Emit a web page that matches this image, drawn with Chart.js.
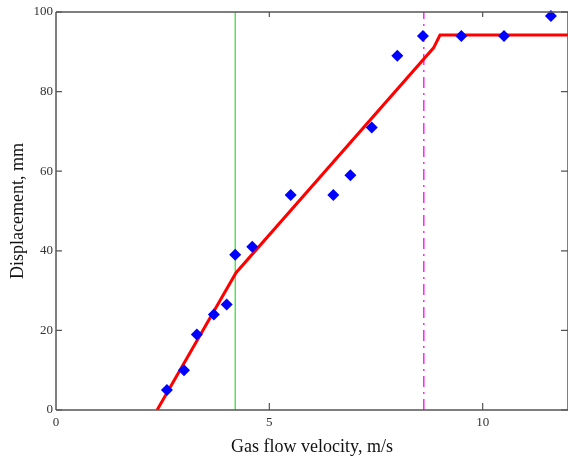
<!DOCTYPE html>
<html>
<head>
<meta charset="utf-8">
<script src="https://cdn.jsdelivr.net/npm/chart.js@4"></script>
<style>
  html, body { margin: 0; padding: 0; background: #fff; }
  #wrap { width: 568px; height: 462px; }
</style>
</head>
<body>
<div id="wrap"><canvas id="chart"></canvas></div>
<script>
// measured points (gas flow velocity vs displacement)
var velocity     = [2.6, 3.0, 3.3, 3.7, 4.0, 4.2, 4.6, 5.5, 6.5, 6.9, 7.4, 8.0, 8.6, 9.5, 10.5, 11.6];
var displacement = [5, 10, 19, 24, 26.5, 39, 41, 54, 54, 59, 71, 89, 94, 94, 94, 99];

// piecewise fit line
var fitX = [2.37, 4.22, 8.85, 9.0, 12];
var fitY = [0, 34.5, 91, 94.2, 94.2];

// vertical markers
var greenX = 4.2;
var magentaX = 8.62;

var xTicks = [0, 5, 10];
var yTicks = [0, 20, 40, 60, 80, 100];

var SERIF = '"Liberation Serif", "DejaVu Serif", serif';

function pts(xs, ys) {
  return xs.map(function (x, i) { return { x: x, y: ys[i] }; });
}

// box + inward tick marks like the original plot
var frame = {
  id: 'frame',
  afterDatasetsDraw: function (chart) {
    var ctx = chart.ctx, a = chart.chartArea;
    var xs = chart.scales.x, ys = chart.scales.y;
    ctx.save();
    ctx.strokeStyle = '#555';
    ctx.lineWidth = 1.5;
    ctx.beginPath();
    ctx.moveTo(a.left, a.top); ctx.lineTo(a.right, a.top);
    ctx.moveTo(a.left, a.top); ctx.lineTo(a.left, a.bottom);
    ctx.moveTo(a.left, a.bottom); ctx.lineTo(a.right, a.bottom);
    ctx.moveTo(a.right, a.top); ctx.lineTo(a.right, a.bottom);
    ctx.stroke();
    ctx.lineWidth = 1.2;
    ctx.beginPath();
    yTicks.forEach(function (v) {
      var py = ys.getPixelForValue(v);
      ctx.moveTo(a.left, py); ctx.lineTo(a.left + 6, py);
      ctx.moveTo(a.right, py); ctx.lineTo(a.right - 7, py);
    });
    xTicks.forEach(function (v) {
      if (v === 0) return;
      var px = xs.getPixelForValue(v);
      ctx.moveTo(px, a.bottom); ctx.lineTo(px, a.bottom - 7);
      ctx.moveTo(px, a.top); ctx.lineTo(px, a.top + 5);
    });
    ctx.stroke();
    ctx.restore();
  }
};

new Chart(document.getElementById('chart'), {
  type: 'scatter',
  data: {
    datasets: [
      {
        label: 'Measured',
        data: pts(velocity, displacement),
        pointStyle: 'rectRot',
        pointRadius: 6,
        pointBackgroundColor: '#0000ff',
        pointBorderWidth: 0,
        clip: 10
      },
      {
        label: 'Fit',
        data: pts(fitX, fitY),
        showLine: true,
        borderColor: '#ff0000',
        borderWidth: 3,
        pointRadius: 0,
        tension: 0
      },
      {
        label: 'Green',
        data: pts([greenX, greenX], [0, 100]),
        showLine: true,
        borderColor: '#00d800',
        borderWidth: 1,
        pointRadius: 0
      },
      {
        label: 'Magenta',
        data: pts([magentaX, magentaX], [0, 100]),
        showLine: true,
        borderColor: '#ff22ff',
        borderWidth: 1.5,
        borderDash: [11, 5, 2, 5],
        pointRadius: 0
      }
    ]
  },
  options: {
    responsive: true,
    maintainAspectRatio: false,
    animation: false,
    layout: { autoPadding: false, padding: { top: 12, right: 0, left: 0, bottom: 0 } },
    plugins: {
      legend: { display: false },
      tooltip: { enabled: false }
    },
    scales: {
      x: {
        type: 'linear',
        min: 0, max: 12,
        grid: { display: false, drawTicks: false },
        border: { display: false },
        afterFit: function (s) { s.height = 52; },
        afterBuildTicks: function (s) { s.ticks = xTicks.map(function (v) { return { value: v }; }); },
        ticks: { padding: 5, color: '#333', font: { family: SERIF, size: 13 }, maxRotation: 0 },
        title: {
          display: true,
          text: 'Gas flow velocity, m/s',
          color: '#111',
          font: { family: SERIF, size: 18 },
          padding: { top: 0, bottom: 4 }
        }
      },
      y: {
        min: 0, max: 100,
        grid: { display: false, drawTicks: false },
        border: { display: false },
        afterFit: function (s) { s.width = 56; },
        afterBuildTicks: function (s) { s.ticks = yTicks.map(function (v) { return { value: v }; }); },
        ticks: { padding: 3, color: '#333', font: { family: SERIF, size: 13 } },
        title: {
          display: true,
          text: 'Displacement, mm',
          color: '#111',
          font: { family: SERIF, size: 18 },
          padding: { top: 7, bottom: 0 }
        }
      }
    }
  },
  plugins: [frame]
});
</script>
</body>
</html>
